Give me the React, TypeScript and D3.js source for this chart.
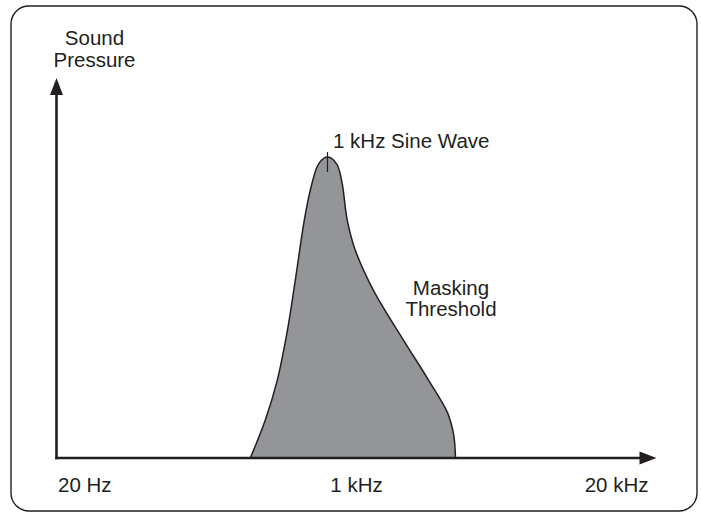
import * as d3 from 'd3';

// Schematic masking curve: x = relative position along the frequency axis (0-100),
// y = relative sound pressure (0-100)
const curveX = [32.3, 34.8, 36.8, 38.5, 39.8, 41.3, 42.3, 43.45, 44.2, 45.0, 45.8, 46.8, 47.6, 48.45, 49.8, 52.8, 57.8, 62.0, 65.2, 66.2, 66.5];
const curveY = [0, 10, 20.5, 33.7, 46.8, 62.6, 70.5, 76.7, 78.4, 79.2, 78.9, 77.1, 72.4, 62.6, 54.7, 44.2, 31.1, 20.5, 11.8, 6, 0];

const freqTicks = ['20 Hz', '1 kHz', '20 kHz'];
const yTitle = ['Sound', 'Pressure'];
const peakLabel = '1 kHz Sine Wave';
const peakX = 45.0;
const peakY = 79.2;
const maskLabel = ['Masking', 'Threshold'];

const width = 701;
const height = 514;
const ink = '#231f20';
const font = '"Liberation Sans", Arial, Helvetica, sans-serif';

export default function App() {
  const x = d3.scaleLinear().domain([0, 100]).range([56.5, 656.5]);
  const y = d3.scaleLinear().domain([0, 100]).range([458, 78]);

  const points = curveX.map((v, i) => [v, curveY[i]] as [number, number]);
  const area = d3.area<[number, number]>()
    .x(d => x(d[0]))
    .y0(y(0))
    .y1(d => y(d[1]))
    .curve(d3.curveCatmullRom.alpha(0.5));

  const x0 = x(0);
  const x1 = x(100);
  const yb = y(0);
  const yt = y(100);

  return (
    <svg width={width} height={height} style={{ position: 'absolute', left: 0, top: 0 }}>
      <rect x={11} y={6} width={686} height={505} rx={18} ry={18} fill="none" stroke={ink} strokeWidth={1.4} />

      <path d={area(points) || ''} fill="#939598" stroke={ink} strokeWidth={1.5} />

      {/* peak marker */}
      <line x1={x(peakX) + 1} x2={x(peakX) + 1} y1={y(peakY) - 5} y2={y(peakY) + 15} stroke={ink} strokeWidth={1.2} />

      {/* axes */}
      <line x1={x0} x2={x0} y1={yb + 1.2} y2={yt + 14} stroke={ink} strokeWidth={2.6} />
      <path d={`M${x0},${yt} L${x0 - 6.5},${yt + 17} L${x0 + 6.5},${yt + 17} Z`} fill={ink} />
      <line x1={x0 - 1.3} x2={x1 - 14} y1={yb} y2={yb} stroke={ink} strokeWidth={2.6} />
      <path d={`M${x1},${yb} L${x1 - 17},${yb - 6.5} L${x1 - 17},${yb + 6.5} Z`} fill={ink} />

      <g fontFamily={font} fontSize={20.5} fill={ink}>
        <text x={x0 + 1.5} y={492} textAnchor="start">{freqTicks[0]}</text>
        <text x={x(50)} y={492} textAnchor="middle">{freqTicks[1]}</text>
        <text x={x1 - 8} y={492} textAnchor="end">{freqTicks[2]}</text>

        {yTitle.map((t, i) => (
          <text key={t} x={94.5} y={44.5 + i * 22} textAnchor="middle">{t}</text>
        ))}

        <text x={333} y={148} textAnchor="start">{peakLabel}</text>

        {maskLabel.map((t, i) => (
          <text key={t} x={451} y={294.5 + i * 21.5} textAnchor="middle">{t}</text>
        ))}
      </g>
    </svg>
  );
}
